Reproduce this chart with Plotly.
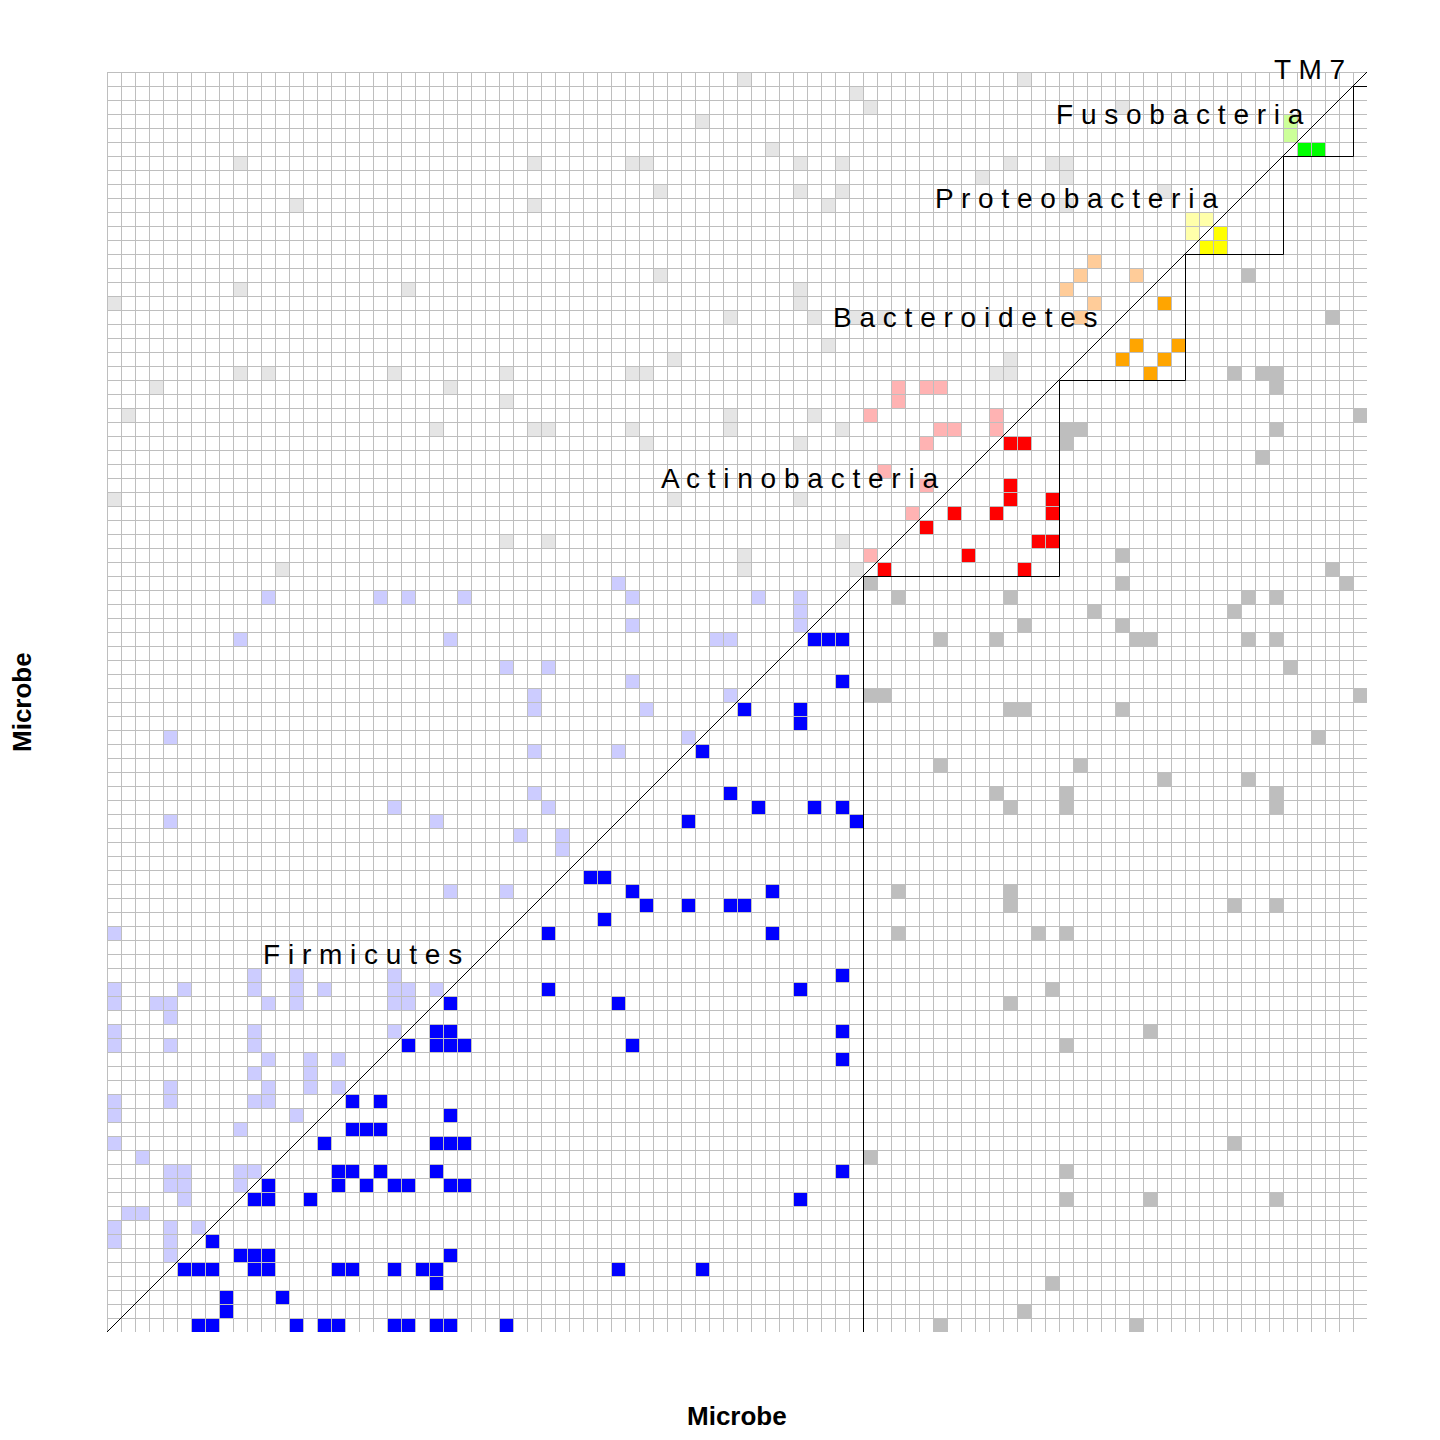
import plotly.graph_objects as go

# phylum groups along both axes (ordered bottom-left to top-right)
GROUP_NAMES = ["Firmicutes", "Actinobacteria", "Bacteroidetes",
               "Proteobacteria", "Fusobacteria", "TM7"]
GROUP_SIZES = [54, 14, 9, 7, 5, 1]

# significant associations, (column, row) with column > row; the upper
# triangle is drawn as the pale mirror image
LINKS = [
    (24, 23), (23, 21), (24, 21), (21, 20), (23, 20), (24, 20), (25, 20),
    (17, 16), (19, 16), (24, 15), (17, 14), (18, 14), (19, 14),
    (15, 13), (23, 13), (24, 13), (25, 13),
    (16, 11), (17, 11), (19, 11), (23, 11),
    (11, 10), (16, 10), (18, 10), (20, 10), (21, 10), (24, 10), (25, 10),
    (10, 9), (11, 9), (14, 9), (7, 6),
    (9, 5), (10, 5), (11, 5), (24, 5),
    (5, 4), (6, 4), (7, 4), (10, 4), (11, 4), (16, 4), (17, 4), (20, 4),
    (22, 4), (23, 4), (23, 3), (8, 2), (12, 2), (8, 1),
    (6, 0), (7, 0), (13, 0), (15, 0), (16, 0), (20, 0), (21, 0), (23, 0),
    (24, 0), (28, 0),
    (35, 29), (31, 28), (47, 28), (56, 28), (52, 25), (31, 24), (49, 24),
    (36, 23), (52, 21), (37, 20), (52, 19), (54, 12), (52, 11), (49, 9),
    (36, 4), (42, 4), (59, 0),
    (66, 28), (68, 28), (67, 24), (64, 23), (74, 21), (68, 20), (80, 13),
    (68, 11), (68, 9), (74, 9), (83, 9), (67, 3), (65, 1), (73, 0),
    (58, 57), (55, 54), (54, 53), (56, 52),
    (50, 49), (51, 49), (52, 49), (59, 49), (52, 46), (54, 45), (55, 45),
    (45, 44), (49, 44), (49, 43), (42, 41), (59, 40), (44, 38),
    (46, 37), (50, 37), (52, 37), (41, 36), (53, 36), (34, 32), (35, 32),
    (37, 31), (47, 31), (56, 31), (38, 30), (41, 30), (44, 30), (45, 30),
    (64, 60), (64, 59), (67, 59), (60, 58), (63, 58), (67, 58),
    (66, 56), (67, 56), (61, 55), (65, 54),
    (72, 55), (87, 54), (72, 53), (88, 53), (64, 52), (81, 52), (83, 52),
    (70, 51), (80, 51), (65, 50), (72, 50), (63, 49), (73, 49), (74, 49),
    (81, 49), (83, 49), (84, 47), (89, 45), (64, 44), (65, 44), (72, 44),
    (86, 42), (69, 40), (75, 39), (81, 39), (63, 38), (68, 38), (83, 38),
    (64, 37), (68, 37), (83, 37), (64, 31), (64, 30), (80, 30), (83, 30),
    (64, 63), (65, 63), (68, 64), (69, 64), (68, 63),
    (75, 73), (73, 70), (76, 70), (72, 69), (75, 69), (74, 68),
    (79, 78), (78, 77), (79, 77), (85, 84), (86, 84),
    (81, 75), (87, 72), (80, 68), (82, 68), (83, 68), (83, 67), (89, 65),
    (83, 64), (82, 62),
]

DARK = ["#0000FF", "#FF0000", "#FFA500", "#FFFF00", "#00FF00", "#A020F0"]
LIGHT = ["#CCCCFF", "#FFB3B3", "#FFCC99", "#FFFFAA", "#CCFF99", "#E0C0F8"]
CROSS_DARK = "#BEBEBE"
CROSS_LIGHT = "#E5E5E5"
GRID = "#BEBEBE"
FONT = "Liberation Sans, Arial, sans-serif"

# pixel nudges for each group label (placed at the block's diagonal midpoint)
LABEL_SHIFT = [(-21, 0), (-21, 0), (-22, 0), (-14, 7), (-12, 7), (-13, 10)]

n = sum(GROUP_SIZES)
starts = [sum(GROUP_SIZES[:g]) for g in range(len(GROUP_SIZES))]
ends = [s + size for s, size in zip(starts, GROUP_SIZES)]
group_of = [g for g, s in enumerate(GROUP_SIZES) for _ in range(s)]

# code 0 = empty, 1+2g / 2+2g = group dark / light, then cross dark / light
palette = ["#FFFFFF"]
for d, l in zip(DARK, LIGHT):
    palette += [d, l]
palette += [CROSS_DARK, CROSS_LIGHT]
cross = len(palette) - 2

z = [[0] * n for _ in range(n)]
for i, j in LINKS:
    if group_of[i] == group_of[j]:
        dark = 1 + 2 * group_of[i]
    else:
        dark = cross
    z[j][i] = dark
    z[i][j] = dark + 1

k = len(palette)
colorscale = []
for c, col in enumerate(palette):
    colorscale += [[c / k, col], [(c + 1) / k, col]]

centers = [v + 0.5 for v in range(n)]

fig = go.Figure()
fig.add_trace(go.Heatmap(
    x=centers, y=centers, z=z, zmin=-0.5, zmax=k - 0.5,
    colorscale=colorscale, showscale=False, hoverinfo="skip",
))

# half a pixel (cells are 14 px) so 1 px lines land on whole pixels
hp = 0.5 / 14

gx, gy = [], []
for v in range(n + 1):
    gx += [v + hp, v + hp, None, 0, n, None]
    gy += [0, n, None, v - hp, v - hp, None]
fig.add_trace(go.Scatter(x=gx, y=gy, mode="lines", hoverinfo="skip",
                         line=dict(color=GRID, width=1)))

# diagonal and the staircase closing each group block
sx, sy = [0, n, None, ends[0] + hp], [0, n, None, 0]
for g, e in enumerate(ends[:-1]):
    sx += [e + hp, ends[g + 1] + hp]
    sy += [e - hp, e - hp]
fig.add_trace(go.Scatter(x=sx[:3], y=sy[:3], mode="lines", hoverinfo="skip",
                         line=dict(color="black", width=1)))
fig.add_trace(go.Scatter(x=sx[3:], y=sy[3:], mode="lines", hoverinfo="skip",
                         line=dict(color="black", width=1, shape="vh")))

for name, s, size, (dx, dy) in zip(GROUP_NAMES, starts, GROUP_SIZES, LABEL_SHIFT):
    mid = s + size / 2
    fig.add_annotation(x=mid, y=mid, text=" ".join(name), showarrow=False,
                       xanchor="right", yanchor="middle", xshift=dx, yshift=dy,
                       font=dict(family=FONT, size=28, color="black"))

fig.add_annotation(x=0.5, y=0, xref="paper", yref="paper", text="<b>Microbe</b>",
                   showarrow=False, yanchor="middle", yshift=-84,
                   font=dict(family=FONT, size=26, color="black"))
fig.add_annotation(x=0, y=0.5, xref="paper", yref="paper", text="<b>Microbe</b>",
                   showarrow=False, xanchor="center", xshift=-85, textangle=-90,
                   font=dict(family=FONT, size=26, color="black"))

axis = dict(range=[0, n], showgrid=False, zeroline=False, showticklabels=False,
            ticks="", showline=False, fixedrange=True)
# the page body adds 8 px, so the figure is 1432 px and the margins 8 px less
fig.update_layout(
    width=1432, height=1432,
    margin=dict(l=99, r=73, t=64, b=108),
    paper_bgcolor="white", plot_bgcolor="white",
    showlegend=False,
    xaxis=axis, yaxis=axis,
)

fig.write_html("out.html")
